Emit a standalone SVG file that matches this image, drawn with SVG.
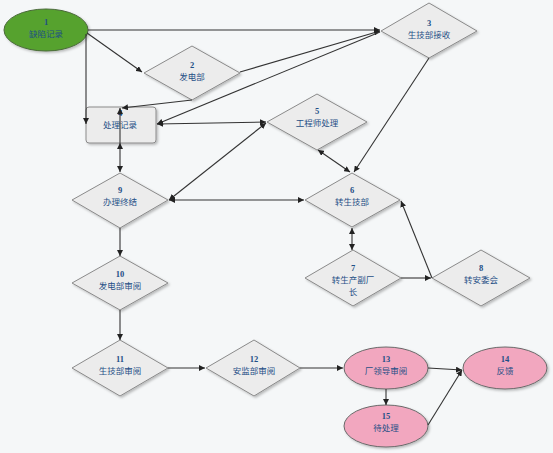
<svg xmlns="http://www.w3.org/2000/svg" width="553" height="453" viewBox="0 0 553 453">
<style>
.d{fill:#ececec;stroke:#8a8a8a;stroke-width:1;filter:url(#sh)}
.c{fill:none;stroke:#333;stroke-width:1.1}
.t{font-family:"Noto Sans CJK SC","Liberation Sans",sans-serif;font-size:8.5px;fill:#1f4f86;text-anchor:middle}
.n{font-family:"Liberation Serif",serif;font-size:8.5px;font-weight:bold;fill:#1f4f86;text-anchor:middle}
.e{fill:#f2a7bf;stroke:#6a6a6a;stroke-width:1;filter:url(#sh)}
</style>
<defs>
<filter id="sh" x="-10%" y="-10%" width="130%" height="140%">
<feDropShadow dx="1.5" dy="1.5" stdDeviation="0.8" flood-color="#000" flood-opacity="0.25"/>
</filter>
<marker id="a" viewBox="0 0 10 10" refX="10" refY="5" markerWidth="6" markerHeight="6" markerUnits="userSpaceOnUse" orient="auto-start-reverse">
<path d="M0,0 L10,5 L0,10 z" fill="#222"/>
</marker>
</defs>
<rect width="553" height="453" fill="#f5f7f8"/>
<g id="n1"><ellipse cx="46" cy="30" rx="42" ry="21" fill="#56a22d" stroke="#4a6a3a" stroke-width="1" filter="url(#sh)"/><text class="n" x="46" y="25">1</text><text class="t" x="46" y="37">缺陷记录</text></g>
<g id="n2"><polygon class="d" points="192,46 240,73 192,100 144,73"/><text class="n" x="192" y="68">2</text><text class="t" x="192" y="80">发电部</text></g>
<g id="n3"><polygon class="d" points="429,3 477,31 429,58 381,31"/><text class="n" x="429" y="26">3</text><text class="t" x="429" y="38">生技部接收</text></g>
<g id="n4"><rect x="86" y="107" width="70" height="36" rx="3" fill="#ececec" stroke="#8a8a8a" filter="url(#sh)"/><text class="n" x="120" y="116">4</text><text class="t" x="120" y="128">处理记录</text></g>
<g id="n5"><polygon class="d" points="317,94 367,122 317,150 267,122"/><text class="n" x="317" y="114">5</text><text class="t" x="317" y="126">工程师处理</text></g>
<g id="n6"><polygon class="d" points="352,173 400,200 352,227 305,200"/><text class="n" x="352" y="193">6</text><text class="t" x="352" y="205">转生技部</text></g>
<g id="n7"><polygon class="d" points="353,250 401,278 353,306 305,278"/><text class="n" x="353" y="271">7</text><text class="t" x="353" y="283">转生产副厂</text><text class="t" x="353" y="295">长</text></g>
<g id="n8"><polygon class="d" points="481,250 530,278 481,306 432,278"/><text class="n" x="481" y="271">8</text><text class="t" x="481" y="283">转安委会</text></g>
<g id="n9"><polygon class="d" points="120,173 168,200 120,228 72,200"/><text class="n" x="120" y="193">9</text><text class="t" x="120" y="205">办理终结</text></g>
<g id="n10"><polygon class="d" points="120,256 168,283 120,310 72,283"/><text class="n" x="120" y="277">10</text><text class="t" x="120" y="289">发电部审阅</text></g>
<g id="n11"><polygon class="d" points="120,340 168,368 120,396 72,368"/><text class="n" x="120" y="362">11</text><text class="t" x="120" y="374">生技部审阅</text></g>
<g id="n12"><polygon class="d" points="254,340 300,368 254,396 206,368"/><text class="n" x="254" y="362">12</text><text class="t" x="254" y="374">安监部审阅</text></g>
<g id="n13"><ellipse class="e" cx="386" cy="368" rx="42" ry="21"/><text class="n" x="386" y="362">13</text><text class="t" x="386" y="374">厂领导审阅</text></g>
<g id="n14"><ellipse class="e" cx="505" cy="368" rx="42" ry="21"/><text class="n" x="505" y="362">14</text><text class="t" x="505" y="374">反馈</text></g>
<g id="n15"><ellipse class="e" cx="386" cy="426" rx="42" ry="21"/><text class="n" x="386" y="419">15</text><text class="t" x="386" y="431">待处理</text></g>
<g id="connectors">
<path class="c" d="M88,30 L380,30" marker-end="url(#a)"/>
<path class="c" d="M87,33 L142,72" marker-end="url(#a)"/>
<path class="c" d="M86,34 L86,124" marker-end="url(#a)"/>
<path class="c" d="M240,72 L380,31" marker-end="url(#a)"/>
<path class="c" d="M380,32 L157,124" marker-end="url(#a)"/>
<path class="c" d="M192,100 L122,108" marker-end="url(#a)"/>
<path class="c" d="M120,143 L120,108" marker-end="url(#a)"/>
<path class="c" d="M120,143 L120,172" marker-start="url(#a)" marker-end="url(#a)"/>
<path class="c" d="M157,124 L266,122" marker-start="url(#a)" marker-end="url(#a)"/>
<path class="c" d="M169,200 L266,123" marker-start="url(#a)" marker-end="url(#a)"/>
<path class="c" d="M169,200 L304,200" marker-start="url(#a)" marker-end="url(#a)"/>
<path class="c" d="M318,150 L350,172" marker-start="url(#a)" marker-end="url(#a)"/>
<path class="c" d="M429,58 L354,172" marker-end="url(#a)"/>
<path class="c" d="M352,228 L352,250" marker-start="url(#a)" marker-end="url(#a)"/>
<path class="c" d="M401,278 L431,278" marker-end="url(#a)"/>
<path class="c" d="M432,278 L401,201" marker-end="url(#a)"/>
<path class="c" d="M120,228 L120,256" marker-end="url(#a)"/>
<path class="c" d="M120,310 L120,340" marker-end="url(#a)"/>
<path class="c" d="M168,368 L205,368" marker-end="url(#a)"/>
<path class="c" d="M300,368 L343,368" marker-end="url(#a)"/>
<path class="c" d="M428,368 L462,370" marker-end="url(#a)"/>
<path class="c" d="M386,389 L386,405" marker-end="url(#a)"/>
<path class="c" d="M428,425 L462,370" marker-end="url(#a)"/>
</g>
</svg>
